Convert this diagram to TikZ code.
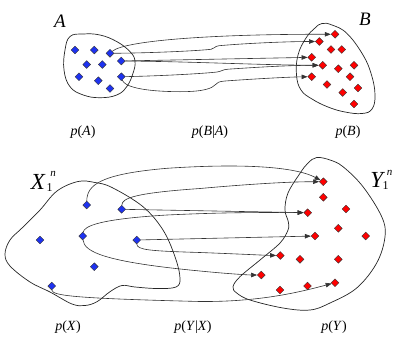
\documentclass[tikz,border=0pt]{standalone}
\usepackage{fontspec}
\setmainfont{Liberation Serif}
\usetikzlibrary{shapes.geometric,arrows.meta}
\definecolor{dblue}{RGB}{30,50,240}
\definecolor{dred}{RGB}{255,0,0}
\tikzset{
  bd/.style={diamond,aspect=1,inner sep=0pt,minimum size=8pt,fill=dblue,draw=black!80,line width=0.4pt},
  rd/.style={bd,fill=dred},
  blob/.style={draw=black!85,line width=0.7pt},
  conn/.style={draw=black!80,line width=0.6pt,-{Triangle[length=6pt,width=4.5pt]}},
  lbl/.style={font=\fontsize{14}{14}\selectfont,inner sep=0pt},
  biglbl/.style={font=\fontsize{19}{19}\selectfont\itshape,inner sep=0pt},
  setlbl/.style={font=\fontsize{23}{23}\selectfont\itshape,inner sep=0pt},
  sublbl/.style={font=\fontsize{12}{12}\selectfont,inner sep=0pt},
  suplbl/.style={font=\fontsize{11}{11}\selectfont\itshape,inner sep=0pt},
}
\begin{document}
\begin{tikzpicture}[x=1pt,y=-1pt]
\useasboundingbox (0,0) rectangle (415,338);
% ---------- top panel blobs
\draw[blob] plot[smooth cycle,tension=0.7] coordinates {(70,36.5) (83,34) (100,35) (117,41.7) (130,51.7) (135,61) (133,73.3) (126.7,86.7) (116.7,95) (100,97.7) (83.3,95) (70,86.7) (64,70) (65,50)};
\draw[blob] plot[smooth cycle,tension=0.7] coordinates {(315,28) (322,23.5) (332,25) (347,33.5) (363,55) (371.5,75) (375,95) (372,109) (362,113.5) (345,112) (328,107) (312,99) (301,90) (296.5,75) (298,55) (306,38)};
% ---------- bottom panel blobs
\draw[blob] plot[smooth cycle,tension=0.6] coordinates {(78,181.5) (95,182.5) (112,187.5) (143,206.7) (163,230) (175,256.7) (180,278) (176,287) (157,288.5) (135,287) (122,285.5) (110,291.7) (97,301.7) (85,305.5) (72,304) (50,292) (30,282) (10,266) (5,254) (10,240) (22,228) (40,210) (57,191)};
\draw[blob] plot[smooth cycle,tension=0.6] coordinates {(316.7,157.5) (330,160) (343,166.7) (363,186.7) (381.7,216.7) (385,236.7) (376.7,263) (356.7,288) (330,303) (310,310) (283,308) (250,300) (236.7,293) (233,286.7) (240,276.7) (260,260) (280,243) (288,230) (288.3,221.7) (285,210) (288,193) (300,173.3) (308,163)};
% ---------- top diamonds
\node[bd] (aa1) at (75,50) {};
\node[bd] (aa2) at (94.3,50) {};
\node[bd] (aa3) at (110,53.3) {};
\node[bd] (aa4) at (86.7,64.5) {};
\node[bd] (aa5) at (102.3,64.5) {};
\node[bd] (aa6) at (121.3,61) {};
\node[bd] (aa7) at (79,76.7) {};
\node[bd] (aa8) at (98.3,80.7) {};
\node[bd] (aa9) at (121.3,76.7) {};
\node[bd] (aa10) at (110,88.5) {};
\node[rd] (bb1) at (335,34.3) {};
\node[rd] (bb2) at (319.3,41.5) {};
\node[rd] (bb3) at (331,49.5) {};
\node[rd] (bb4) at (341.7,49.5) {};
\node[rd] (bb5) at (311.7,57.3) {};
\node[rd] (bb6) at (322.7,65.3) {};
\node[rd] (bb7) at (338.3,68.7) {};
\node[rd] (bb8) at (354,65.3) {};
\node[rd] (bb9) at (350,76.7) {};
\node[rd] (bb10) at (311.7,76.7) {};
\node[rd] (bb11) at (327,84.5) {};
\node[rd] (bb12) at (342.7,92.5) {};
\node[rd] (bb13) at (358,88) {};
\node[rd] (bb14) at (354,104) {};
% ---------- bottom diamonds
\node[bd] (x1) at (86.7,205) {};
\node[bd] (x2) at (121.7,209.3) {};
\node[bd] (x3) at (40,240) {};
\node[bd] (x4) at (82.7,236) {};
\node[bd] (x5) at (136.7,240) {};
\node[bd] (x6) at (94.3,266.7) {};
\node[bd] (x7) at (51.7,286) {};
\node[rd] (y1) at (323.3,181.7) {};
\node[rd] (y2) at (323.3,197.3) {};
\node[rd] (y3) at (346,209) {};
\node[rd] (y4) at (307.7,212.7) {};
\node[rd] (y5) at (338.3,228.3) {};
\node[rd] (y6) at (315,236) {};
\node[rd] (y7) at (365.7,236) {};
\node[rd] (y8) at (280.3,255.5) {};
\node[rd] (y9) at (300,259.3) {};
\node[rd] (y10) at (338.3,259.3) {};
\node[rd] (y11) at (261.3,275) {};
\node[rd] (y12) at (280,290) {};
\node[rd] (y13) at (307.5,286) {};
\node[rd] (y14) at (335,282.7) {};
% ---------- top connectors
\draw[conn] (aa3) .. controls (125,40) and (220,34) .. (bb1);
\draw[conn] (aa3) .. controls (150,53) and (195,51) .. (211,49.3) .. controls (215,48.9) and (214,46.2) .. (219,45.7) .. controls (250,43) and (290,41.5) .. (bb2);
\draw[conn] (aa6) -- (bb5);
\draw[conn] (aa6) .. controls (190,61.5) and (260,65) .. (bb6);
\draw[conn] (aa9) .. controls (160,76) and (205,73.5) .. (217,72) .. controls (222,71.3) and (222,69.6) .. (228,69.2) .. controls (260,67) and (290,65.3) .. (bb6);
\draw[conn] (aa9) .. controls (124,86) and (140,91.5) .. (180,91.7) .. controls (205,91.7) and (212,88) .. (215,85) .. controls (217,82.5) and (219,81.5) .. (225,81) .. controls (260,78.5) and (290,77) .. (bb10);
% ---------- bottom connectors
\draw[conn] (x1) .. controls (87,185) and (100,174) .. (167,168.3) .. controls (230,164) and (292,165) .. (y1);
\draw[conn] (x2) .. controls (122,198) and (135,193) .. (200,188.5) .. controls (250,184) and (290,181.7) .. (y1);
\draw[conn] (x2) -- (y4);
\draw[conn] (x4) .. controls (84,226) and (100,219) .. (167,215) .. controls (230,212) and (270,212.5) .. (y4);
\draw[conn] (x5) -- (y6);
\draw[conn] (x5) .. controls (137,250) and (150,251) .. (200,252.5) .. controls (240,254) and (265,255.3) .. (y8);
\draw[conn] (x4) .. controls (84,252) and (105,262) .. (200,271) .. controls (230,274) and (250,275) .. (y11);
\draw[conn] (x7) .. controls (52,296) and (80,298.5) .. (200,301.5) .. controls (260,302) and (300,292) .. (y14);
% ---------- labels
\node[biglbl] (labA) at (60,21.7) {A};
\node[biglbl] (labB) at (365,19) {B};
\node[lbl] (pA) at (83,131.7) {\textit{p}(\textit{A})};
\node[lbl] (pBA) at (210,131.7) {\textit{p}(\textit{B}|\textit{A})};
\node[lbl] (pB) at (348,131.7) {\textit{p}(\textit{B})};
\node[setlbl] (labX) at (38,181.7) {X};
\node[sublbl] (labX1) at (49.5,188) {1};
\node[suplbl] (labXn) at (53,174.3) {n};
\node[setlbl] (labY) at (376.7,179.5) {Y};
\node[sublbl] (labY1) at (385.5,185.5) {1};
\node[suplbl] (labYn) at (389.5,172.7) {n};
\node[lbl] (pX) at (68,326.7) {\textit{p}(\textit{X})};
\node[lbl] (pYX) at (193,326.7) {\textit{p}(\textit{Y}|\textit{X})};
\node[lbl] (pY) at (334,326.7) {\textit{p}(\textit{Y})};
\end{tikzpicture}
\end{document}
